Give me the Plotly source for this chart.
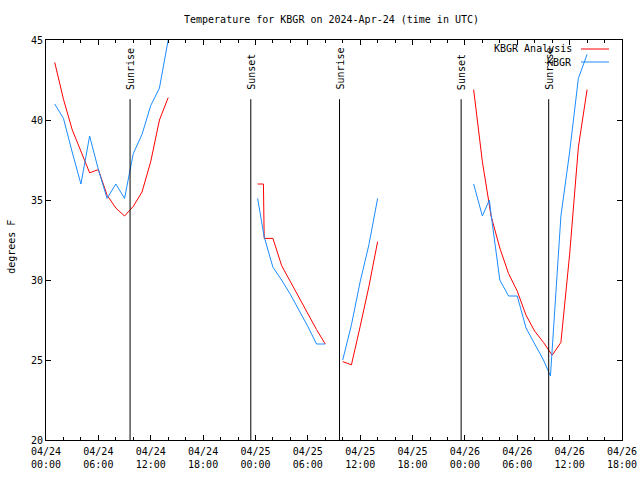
import plotly.graph_objects as go

# ---- data (times in UTC) ----
red_time = [
    "2024-04-24 01:00", "2024-04-24 02:00", "2024-04-24 03:00", "2024-04-24 04:00",
    "2024-04-24 05:00", "2024-04-24 06:00", "2024-04-24 07:00", "2024-04-24 08:00",
    "2024-04-24 09:00", "2024-04-24 10:00", "2024-04-24 11:00", "2024-04-24 12:00",
    "2024-04-24 13:00", "2024-04-24 14:00", None,
    "2024-04-25 00:15", "2024-04-25 00:55", "2024-04-25 01:00", "2024-04-25 02:00",
    "2024-04-25 03:00", "2024-04-25 04:00", "2024-04-25 05:00", "2024-04-25 06:00",
    "2024-04-25 07:00", "2024-04-25 08:00", None,
    "2024-04-25 10:00", "2024-04-25 11:00", "2024-04-25 12:00", "2024-04-25 13:00",
    "2024-04-25 14:00", None,
    "2024-04-26 01:00", "2024-04-26 02:00", "2024-04-26 03:00", "2024-04-26 04:00",
    "2024-04-26 05:00", "2024-04-26 06:00", "2024-04-26 07:00", "2024-04-26 08:00",
    "2024-04-26 09:00", "2024-04-26 10:00", "2024-04-26 11:00", "2024-04-26 12:00",
    "2024-04-26 13:00", "2024-04-26 14:00",
]
red_temp = [
    43.6, 41.3, 39.4, 38.0, 36.7, 36.9, 35.3, 34.5, 34.0, 34.6, 35.5, 37.4, 40.0, 41.4, None,
    36.0, 36.0, 32.6, 32.6, 30.9, 29.9, 28.85, 27.9, 26.9, 26.0, None,
    24.9, 24.7, 27.1, 29.6, 32.4, None,
    41.9, 37.4, 34.0, 32.0, 30.4, 29.3, 27.8, 26.8, 26.1, 25.3, 26.1, 31.6, 38.3, 41.9,
]

blue_time = [
    "2024-04-24 01:00", "2024-04-24 02:00", "2024-04-24 03:00", "2024-04-24 04:00",
    "2024-04-24 05:00", "2024-04-24 06:00", "2024-04-24 07:00", "2024-04-24 08:00",
    "2024-04-24 09:00", "2024-04-24 10:00", "2024-04-24 11:00", "2024-04-24 12:00",
    "2024-04-24 13:00", "2024-04-24 14:00", None,
    "2024-04-25 00:15", "2024-04-25 00:30", "2024-04-25 01:00", "2024-04-25 02:00",
    "2024-04-25 03:00", "2024-04-25 04:00", "2024-04-25 05:00", "2024-04-25 06:00",
    "2024-04-25 07:00", "2024-04-25 08:00", None,
    "2024-04-25 10:00", "2024-04-25 11:00", "2024-04-25 12:00", "2024-04-25 13:00",
    "2024-04-25 14:00", None,
    "2024-04-26 01:00", "2024-04-26 02:00", "2024-04-26 02:48", "2024-04-26 03:00",
    "2024-04-26 04:00", "2024-04-26 05:00", "2024-04-26 06:00", "2024-04-26 07:00",
    "2024-04-26 08:00", "2024-04-26 09:00", "2024-04-26 09:48", "2024-04-26 11:00",
    "2024-04-26 12:00", "2024-04-26 13:00", "2024-04-26 14:00",
]
blue_temp = [
    41.0, 40.1, 38.0, 36.0, 39.0, 36.9, 35.1, 36.0, 35.1, 37.9, 39.1, 40.9, 42.0, 45.0, None,
    35.1, 34.3, 32.7, 30.8, 30.0, 29.1, 28.1, 27.1, 26.0, 26.0, None,
    25.0, 27.2, 29.9, 32.2, 35.1, None,
    36.0, 34.0, 35.0, 34.1, 30.0, 29.0, 29.0, 27.0, 26.0, 25.0, 24.0, 34.0, 38.0, 42.6, 44.1,
]

sun_time = ["2024-04-24 09:38", "2024-04-24 23:28", "2024-04-25 09:38",
            "2024-04-25 23:34", "2024-04-26 09:36"]
sun_label = ["Sunrise", "Sunset", "Sunrise", "Sunset", "Sunrise"]

tick_vals = ["2024-04-24 00:00", "2024-04-24 06:00", "2024-04-24 12:00", "2024-04-24 18:00",
             "2024-04-25 00:00", "2024-04-25 06:00", "2024-04-25 12:00", "2024-04-25 18:00",
             "2024-04-26 00:00", "2024-04-26 06:00", "2024-04-26 12:00", "2024-04-26 18:00"]
tick_text = ["04/24<br>00:00", "04/24<br>06:00", "04/24<br>12:00", "04/24<br>18:00",
             "04/25<br>00:00", "04/25<br>06:00", "04/25<br>12:00", "04/25<br>18:00",
             "04/26<br>00:00", "04/26<br>06:00", "04/26<br>12:00", "04/26<br>18:00"]

series_names = ["KBGR Analysis", "KBGR"]
RED = "#ff0000"
BLUE = "#1a8cff"
FONT = "DejaVu Sans Mono"

fig = go.Figure()
fig.add_trace(go.Scatter(x=red_time, y=red_temp, mode="lines", name=series_names[0],
                         line=dict(color=RED, width=1), showlegend=False))
fig.add_trace(go.Scatter(x=blue_time, y=blue_temp, mode="lines", name=series_names[1],
                         line=dict(color=BLUE, width=1), showlegend=False))

LINE_TOP = 41.3
for t, lab in zip(sun_time, sun_label):
    fig.add_shape(type="line", xref="x", yref="y", x0=t, x1=t, y0=20, y1=LINE_TOP,
                  line=dict(color="black", width=1))
    fig.add_annotation(x=t, y=41.75, xref="x", yref="y", text=lab, textangle=-90,
                       showarrow=False, xanchor="center", yanchor="bottom",
                       font=dict(family=FONT, size=10, color="black"))

# manual gnuplot-style key (text right, sample on the right)
key_rows = [0.9775, 0.945]
for name, col, yy in zip(series_names, [RED, BLUE], key_rows):
    fig.add_annotation(x=0.9167, y=yy, xref="paper", yref="paper", text=name,
                       showarrow=False, xanchor="right", yanchor="middle",
                       font=dict(family=FONT, size=10, color="black"))
    fig.add_shape(type="line", xref="paper", yref="paper", x0=0.9288, x1=0.9774,
                  y0=yy, y1=yy, line=dict(color=col, width=1))

fig.add_annotation(x=0.4965, y=1.05, xref="paper", yref="paper",
                   text="Temperature for KBGR on 2024-Apr-24 (time in UTC)",
                   showarrow=False, xanchor="center", yanchor="middle",
                   font=dict(family=FONT, size=10, color="black"))
fig.add_annotation(x=-0.061, y=0.4825, xref="paper", yref="paper", text="degrees F",
                   textangle=-90, showarrow=False, xanchor="center", yanchor="middle",
                   font=dict(family=FONT, size=10, color="black"))

fig.update_layout(
    width=640, height=480,
    margin=dict(l=46, r=18, t=40, b=40, autoexpand=False),
    paper_bgcolor="white", plot_bgcolor="white",
    font=dict(family=FONT, size=10, color="black"),
    showlegend=False,
)
fig.update_xaxes(
    type="date", range=["2024-04-24 00:00", "2024-04-26 18:00"],
    tickvals=tick_vals, ticktext=tick_text, automargin=False,
    ticks="inside", ticklen=5, tickcolor="black", tickwidth=1,
    showline=True, linecolor="black", linewidth=1, mirror="ticks",
    showgrid=False, zeroline=False, ticklabelstandoff=2,
    minor=dict(ticks="inside", ticklen=3, tickcolor="black", dtick=7200000,
               tick0="2024-04-24 00:00", showgrid=False),
    tickfont=dict(family=FONT, size=10),
)
fig.update_yaxes(
    range=[20, 45], dtick=5, tick0=20, automargin=False,
    ticks="inside", ticklen=5, tickcolor="black", tickwidth=1,
    showline=True, linecolor="black", linewidth=1, mirror="ticks",
    showgrid=False, zeroline=False,
    tickfont=dict(family=FONT, size=10),
)

fig.write_html("out.html", config={"displayModeBar": False},
               post_script="document.body.style.margin='0';document.body.style.overflow='hidden';")
